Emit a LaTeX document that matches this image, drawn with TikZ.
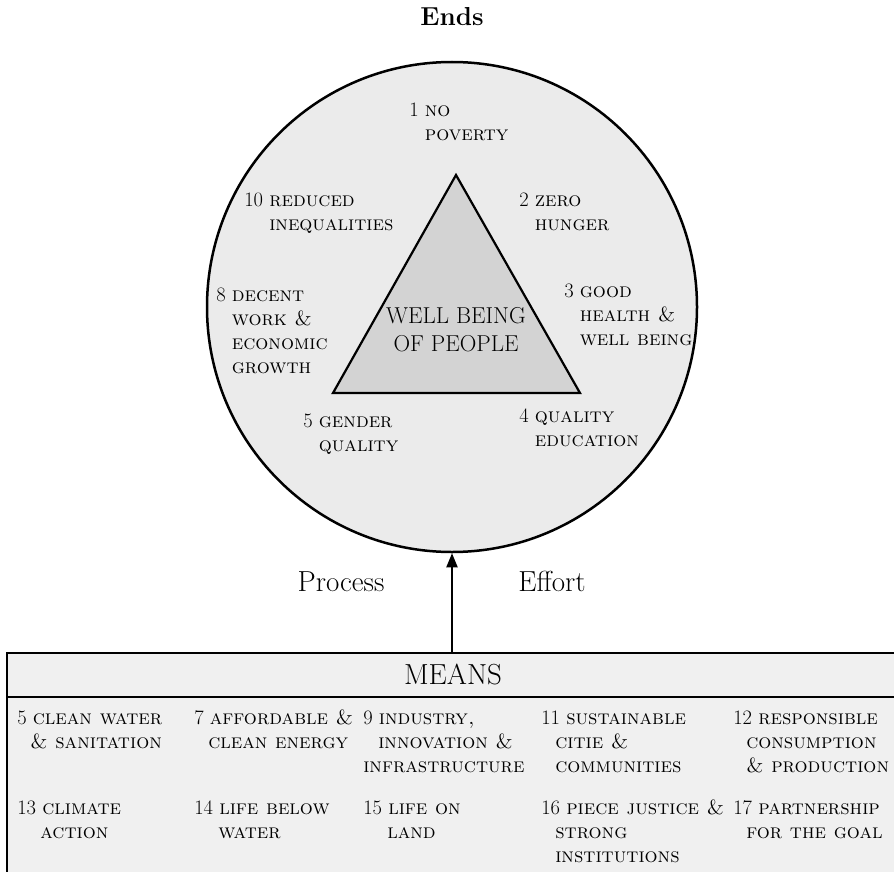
\documentclass[tikz,border=0pt]{standalone}
\usepackage{fontspec}
\usetikzlibrary{arrows.meta}
\definecolor{endsgray}{HTML}{EBEBEB}
\definecolor{wellgray}{HTML}{D3D3D3}
\definecolor{meansgray}{HTML}{F0F0F0}
% number with its text lines hanging after it
\newcommand{\goal}[2]{\begin{tabular}[t]{@{}l@{\ }l@{}}#1&#2\end{tabular}}
\newcommand{\cell}[1]{\begin{tabular}[t]{@{}l@{}}#1\end{tabular}}
\begin{document}
\begin{tikzpicture}[x=1pt,y=-1pt,line width=2.5pt]
	\tikzset{every node/.style={inner sep=0pt}}
	\tikzset{goal/.style={anchor=base west,font=\fontsize{20.5}{24}\selectfont}}
	\tikzset{big/.style={anchor=base,font=\fontsize{29}{30}\selectfont}}
	\useasboundingbox (0,0) rectangle (894,872);
	% ends
	\node [anchor=base,font=\bfseries\fontsize{26}{30}\selectfont] (title) at (452,26) {Ends};
	\node [circle,draw,fill=endsgray,minimum size=490pt] (ends) at (452,307) {};
	\filldraw [fill=wellgray,line width=2.2pt] (456,175) -- (333,393) -- (580,393) -- cycle;
	\node [anchor=base,font=\fontsize{23}{28}\selectfont] (well) at (456,323)
		{\begin{tabular}[t]{@{}c@{}}WELL BEING\\OF PEOPLE\end{tabular}};
	\node [goal] (g1) at (408,117) {\goal{1}{\textsc{no}\\&\textsc{poverty}}};
	\node [goal] (g10) at (243,206) {\goal{10}{\textsc{reduced}\\&\textsc{inequalities}}};
	\node [goal] (g2) at (518,206) {\goal{2}{\textsc{zero}\\&\textsc{hunger}}};
	\node [goal] (g8) at (215,301) {\goal{8}{\textsc{decent}\\&\textsc{work \&}\\&\textsc{economic}\\&\textsc{growth}}};
	\node [goal] (g3) at (563,297) {\goal{3}{\textsc{good}\\&\textsc{health \&}\\&\textsc{well being}}};
	\node [goal] (g5) at (302,427) {\goal{5}{\textsc{gender}\\&\textsc{quality}}};
	\node [goal] (g4) at (518,422) {\goal{4}{\textsc{quality}\\&\textsc{education}}};
	% means
	\fill [meansgray] (7,653) rectangle (894,872);
	\draw (7,872) -- (7,653) -- (894,653);
	\draw (7,697) -- (894,697);
	\node [big] (means) at (453,684) {MEANS};
	\coordinate (top) at (452,653);
	\draw [line width=2pt,-{Triangle[length=14pt,width=11pt]}] (top) -- (ends.south);
	\node [big] (process) at (341,591) {Process};
	\node [big] (effort) at (552,591) {Effort};
	\node [goal] (m5) at (16,724) {\cell{5\ \textsc{clean water}\\\hspace*{13pt}\textsc{\& sanitation}}};
	\node [goal] (m7) at (193,724) {\cell{7\ \textsc{affordable \&}\\\hspace*{14pt}\textsc{clean energy}}};
	\node [goal] (m9) at (362,724) {\cell{9\ \textsc{industry,}\\\hspace*{15pt}\textsc{innovation \&}\\\textsc{infrastructure}}};
	\node [goal] (m11) at (540,724) {\cell{11\ \textsc{sustainable}\\\hspace*{14pt}\textsc{citie \&}\\\hspace*{14pt}\textsc{communities}}};
	\node [goal] (m12) at (732,724) {\cell{12\ \textsc{responsible}\\\hspace*{13pt}\textsc{consumption}\\\hspace*{13pt}\textsc{\& production}}};
	\node [goal] (m13) at (16,814) {\cell{13\ \textsc{climate}\\\hspace*{23pt}\textsc{action}}};
	\node [goal] (m14) at (193,814) {\cell{14\ \textsc{life below}\\\hspace*{24pt}\textsc{water}}};
	\node [goal] (m15) at (362,814) {\cell{15\ \textsc{life on}\\\hspace*{24pt}\textsc{land}}};
	\node [goal] (m16) at (540,814) {\cell{16\ \textsc{piece justice \&}\\\hspace*{14pt}\textsc{strong}\\\hspace*{14pt}\textsc{institutions}}};
	\node [goal] (m17) at (732,814) {\cell{17\ \textsc{partnership}\\\hspace*{13pt}\textsc{for the goal}}};
\end{tikzpicture}
\end{document}
